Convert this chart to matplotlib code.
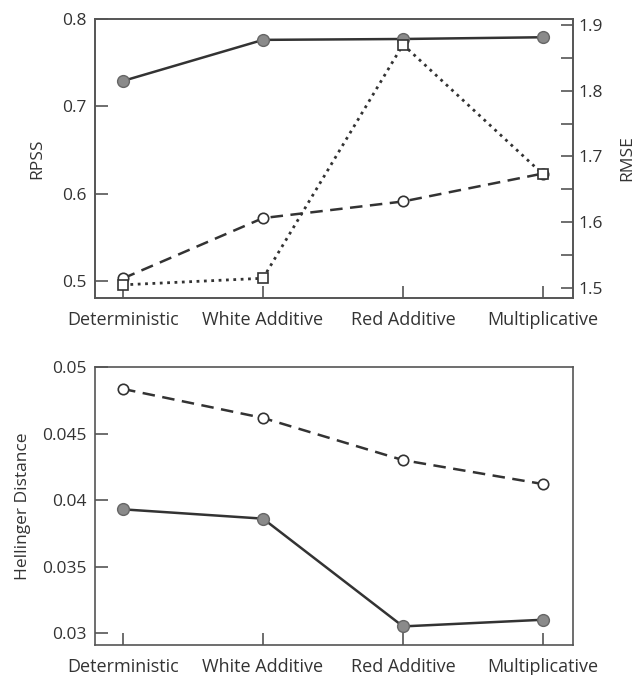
import matplotlib
matplotlib.use("Agg")
import matplotlib.pyplot as plt
from matplotlib.ticker import MultipleLocator

plt.rcParams['font.family'] = ['Open Sans', 'DejaVu Sans']

categories = ['Deterministic', 'White Additive', 'Red Additive', 'Multiplicative']

# top panel
rpss_solid = [0.729, 0.776, 0.777, 0.779]
rpss_dashed = [0.503, 0.572, 0.591, 0.623]
rmse_dotted = [1.505, 1.515, 1.870, 1.673]

# bottom panel
hell_dashed = [0.04835, 0.04617, 0.0430, 0.0412]
hell_solid = [0.0393, 0.0386, 0.0305, 0.0310]

line_col = '#333333'
spine_col = '#555555'
fill_col = '#8a8a8a'
x = list(range(len(categories)))

fig = plt.figure(figsize=(6.38, 6.75), dpi=100)
ax1 = fig.add_axes([0.149, 0.5585, 0.749, 0.4135])
ax2 = fig.add_axes([0.149, 0.0444, 0.749, 0.4119])


def style_axis(ax):
    for s in ax.spines.values():
        s.set_color(spine_col)
        s.set_linewidth(1.2)
    ax.tick_params(direction='in', length=9, width=1.2, color=spine_col,
                   labelsize=12.5, labelcolor='#333333', pad=6)
    ax.tick_params(axis='x', pad=9, labelsize=13)
    ax.set_xticks(x)
    ax.set_xticklabels(categories)
    ax.set_xlim(-0.2, 3.214)


# --- top: RPSS and RMSE
ax1.plot(x, rpss_solid, '-', color=line_col, lw=1.8, marker='o', ms=8.5,
         mfc=fill_col, mec='#666666', mew=1.0, zorder=3)
ax1.plot(x, rpss_dashed, '--', color=line_col, lw=1.8, dashes=(5, 3), marker='o',
         ms=7.5, mfc='white', mec=line_col, mew=1.2, zorder=3)
ax1.set_ylim(0.4805, 0.8)
ax1.yaxis.set_major_locator(MultipleLocator(0.1))
ax1.set_ylabel('RPSS', fontsize=12.5, color='#333333', labelpad=12)
style_axis(ax1)

ax1r = ax1.twinx()
ax1r.plot(x, rmse_dotted, ':', color=line_col, lw=2.0, marker='s', ms=7.5,
          mfc='white', mec=line_col, mew=1.2, zorder=3)
ax1r.set_ylim(1.485, 1.909)
ax1r.yaxis.set_major_locator(MultipleLocator(0.1))
ax1r.yaxis.set_minor_locator(MultipleLocator(0.05))
for s in ax1r.spines.values():
    s.set_color(spine_col)
    s.set_linewidth(1.2)
ax1r.tick_params(axis='y', which='both', direction='in', length=9, width=1.2,
                 color=spine_col, labelsize=12.5, labelcolor='#333333', pad=4)
ax1r.set_ylabel('RMSE', fontsize=12.5, color='#333333', labelpad=12)

# --- bottom: Hellinger distance
ax2.plot(x, hell_dashed, '--', color=line_col, lw=1.8, dashes=(5, 3), marker='o',
         ms=7.5, mfc='white', mec=line_col, mew=1.2, zorder=3)
ax2.plot(x, hell_solid, '-', color=line_col, lw=1.8, marker='o', ms=8.5,
         mfc=fill_col, mec='#666666', mew=1.0, zorder=3)
ax2.set_ylim(0.0291, 0.05)
ax2.set_yticks([0.03, 0.035, 0.04, 0.045, 0.05])
ax2.set_yticklabels(['0.03', '0.035', '0.04', '0.045', '0.05'])
ax2.set_ylabel('Hellinger Distance', fontsize=12.5, color='#333333', labelpad=8)
style_axis(ax2)

fig.savefig('out.png', dpi=100)
